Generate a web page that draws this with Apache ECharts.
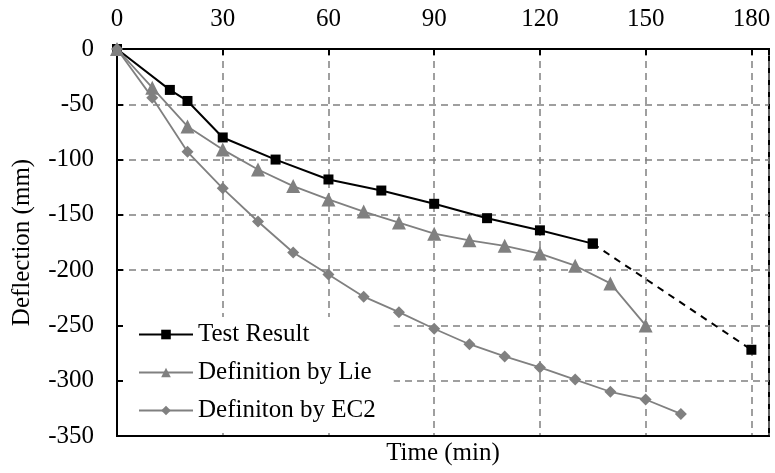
<!DOCTYPE html>
<html><head><meta charset="utf-8">
<script src="https://cdn.jsdelivr.net/npm/echarts@6/dist/echarts.min.js"></script>
<style>html,body{margin:0;padding:0;background:#fff}#c{width:775px;height:473px}</style>
</head><body><div id="c"></div>
<script>
const xTicks = [0, 30, 60, 90, 120, 150, 180];
const timeTest = [0, 15, 20, 30, 45, 60, 75, 90, 105, 120, 135];
const deflTest = [0, -37, -47, -80, -100, -118, -128, -140, -153, -164, -176];
const timeExt = [135, 180];
const deflExt = [-176, -272];
const timeLie = [0, 10, 20, 30, 40, 50, 60, 70, 80, 90, 100, 110, 120, 130, 140, 150];
const deflLie = [0, -35, -70, -91, -109, -124, -136, -147, -157, -167, -173, -178, -185, -196, -212, -250];
const timeEC2 = [0, 10, 20, 30, 40, 50, 60, 70, 80, 90, 100, 110, 120, 130, 140, 150, 160];
const deflEC2 = [0, -44, -93, -126, -156, -184, -204, -224, -238, -253, -267, -278, -288, -299, -310, -317, -330];

const zip = (a, b) => a.map((v, i) => [v, b[i]]);
const FONT = '"Liberation Serif", "Times New Roman", serif';
const FS = 25;
const GRAY = '#808080';
const chart = echarts.init(document.getElementById('c'), null, {renderer: 'canvas'});
chart.setOption({
  animation: false,
  backgroundColor: '#fff',
  grid: {left: 117, right: 6, top: 49, bottom: 37, show: true, borderColor: '#000', borderWidth: 2, backgroundColor: 'transparent'},
  legend: {
    data: ['Test Result', 'Definition by Lie', 'Definiton by EC2'],
    orient: 'vertical', left: 123, top: 317, itemWidth: 54, itemHeight: 12, itemGap: 13,
    padding: [5, 18, 6, 15],
    textStyle: {fontFamily: FONT, fontSize: FS, color: '#000', padding: [0, 0, 0, 0]},
    backgroundColor: '#fff'
  },
  xAxis: [{
    type: 'value', position: 'top', min: 0, max: 185, interval: 30,
    axisLine: {show: true, lineStyle: {color: '#000', width: 2}},
    axisTick: {show: true, inside: true, length: 6, lineStyle: {color: '#000', width: 2}},
    axisLabel: {fontFamily: FONT, fontSize: FS, color: '#000', margin: 17,
      formatter: v => xTicks.includes(v) ? String(v) : ''},
    splitLine: {show: true, lineStyle: {color: GRAY, type: [7, 5], width: 1.5}}
  }, {
    type: 'value', position: 'bottom', min: 0, max: 185, interval: 30,
    name: 'Time (min)', nameLocation: 'middle', nameGap: 5,
    nameTextStyle: {fontFamily: FONT, fontSize: FS, color: '#000', verticalAlign: 'top'},
    axisLine: {show: true, lineStyle: {color: '#000', width: 2}},
    axisTick: {show: false}, axisLabel: {show: false}, splitLine: {show: false}
  }],
  yAxis: {
    type: 'value', min: -350, max: 0, interval: 50,
    name: 'Deflection (mm)', nameLocation: 'middle', nameGap: 82,
    nameTextStyle: {fontFamily: FONT, fontSize: FS, color: '#000'},
    axisLine: {show: true, lineStyle: {color: '#000', width: 2}},
    axisTick: {show: true, inside: true, length: 6, lineStyle: {color: '#000', width: 2}},
    axisLabel: {fontFamily: FONT, fontSize: FS, color: '#000', margin: 23},
    splitLine: {show: true, lineStyle: {color: GRAY, type: [7, 5], width: 1.5}}
  },
  series: [{
    name: 'Test Result', type: 'line', xAxisIndex: 0, data: zip(timeTest, deflTest),
    symbol: 'rect', symbolSize: 10, color: '#000',
    lineStyle: {color: '#000', width: 2}, itemStyle: {color: '#000'}, z: 3
  }, {
    name: 'Test Result ext', type: 'line', xAxisIndex: 0, data: zip(timeExt, deflExt),
    symbol: 'rect', symbolSize: 10, color: '#000',
    lineStyle: {color: '#000', width: 2, type: [7, 6]}, itemStyle: {color: '#000'}, z: 3
  }, {
    name: 'Definition by Lie', type: 'line', xAxisIndex: 0, data: zip(timeLie, deflLie),
    symbol: 'triangle', symbolSize: 14, color: GRAY,
    lineStyle: {color: GRAY, width: 1.8}, itemStyle: {color: GRAY}, z: 4
  }, {
    name: 'Definiton by EC2', type: 'line', xAxisIndex: 0, data: zip(timeEC2, deflEC2),
    symbol: 'diamond', symbolSize: 12, color: GRAY,
    lineStyle: {color: GRAY, width: 1.8}, itemStyle: {color: GRAY}, z: 5
  }]
});
</script></body></html>
